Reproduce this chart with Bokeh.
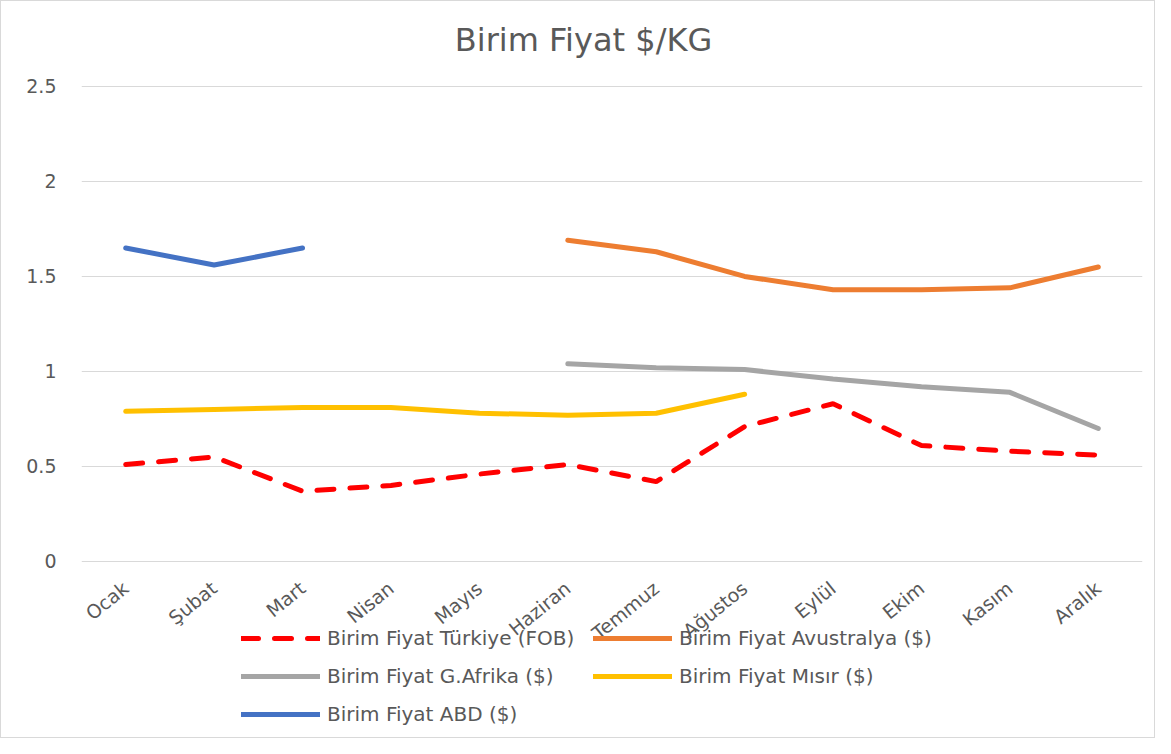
import math
from bokeh.plotting import figure
from bokeh.models import (FactorRange, Range1d, FixedTicker, Legend, LegendItem, Label)
from bokeh.embed import file_html
from bokeh.resources import INLINE

months = ["Ocak", "Şubat", "Mart", "Nisan", "Mayıs", "Haziran", "Temmuz",
          "Ağustos", "Eylül", "Ekim", "Kasım", "Aralık"]
nan = float("nan")
turkiye = [0.51, 0.55, 0.37, 0.40, 0.46, 0.51, 0.42, 0.71, 0.83, 0.61, 0.58, 0.56]
avustralya = [nan, nan, nan, nan, nan, 1.69, 1.63, 1.50, 1.43, 1.43, 1.44, 1.55]
gafrika = [nan, nan, nan, nan, nan, 1.04, 1.02, 1.01, 0.96, 0.92, 0.89, 0.70]
misir = [0.79, 0.80, 0.81, 0.81, 0.78, 0.77, 0.78, 0.88, nan, nan, nan, nan]
abd = [1.65, 1.56, 1.65, nan, nan, nan, nan, nan, nan, nan, nan, nan]
y_ticks = [0, 0.5, 1, 1.5, 2, 2.5]
y_tick_labels = ["0", "0.5", "1", "1.5", "2", "2.5"]
title_text = "Birim Fiyat $/KG"
series_names = ["Birim Fiyat Türkiye (FOB)", "Birim Fiyat Avustralya ($)",
                "Birim Fiyat G.Afrika ($)", "Birim Fiyat Mısır ($)", "Birim Fiyat ABD ($)"]

FONT = "DejaVu Sans"
GREY = "#595959"
W, H = 1155, 738

# frame spans the full height; value range extended so that 0..2.5 sits where the reference draws it
p = figure(width=W, height=H, x_range=FactorRange(*months), y_range=Range1d(-0.937, 2.947),
           output_backend="svg", toolbar_location=None,
           min_border_left=80, min_border_right=14, min_border_top=0, min_border_bottom=0)
p.styles = {"border": "1px solid #D9D9D9"}
p.outline_line_color = None
p.background_fill_color = "white"
p.border_fill_color = "white"

p.xgrid.grid_line_color = None
p.ygrid.grid_line_color = "#D9D9D9"
p.ygrid.grid_line_width = 1.2
p.yaxis.ticker = FixedTicker(ticks=y_ticks)
p.ygrid.ticker = FixedTicker(ticks=y_ticks)
p.yaxis.major_label_overrides = {t: l for t, l in zip(y_ticks, y_tick_labels)}

for ax in (p.xaxis[0], p.yaxis[0]):
    ax.axis_line_color = None
    ax.major_tick_line_color = None
    ax.minor_tick_line_color = None
    ax.major_tick_out = 0
    ax.major_tick_in = 0
    ax.major_label_text_font = FONT
    ax.major_label_text_font_size = "19px"
    ax.major_label_text_color = GREY
p.yaxis.major_label_standoff = 25
p.xaxis.fixed_location = 0
p.xaxis.major_label_standoff = 24
p.xaxis.major_label_orientation = 0.68

r_tr = p.line(months, turkiye, line_color="#FF0000", line_width=5, line_dash="17 16", line_cap="round")
r_au = p.line(months, avustralya, line_color="#ED7D31", line_width=5, line_cap="round")
r_ga = p.line(months, gafrika, line_color="#A5A5A5", line_width=5, line_cap="round")
r_mi = p.line(months, misir, line_color="#FFC000", line_width=5, line_cap="round")
r_ab = p.line(months, abd, line_color="#4472C4", line_width=5, line_cap="round")

items = [LegendItem(label=n, renderers=[r]) for n, r in zip(series_names, [r_tr, r_au, r_ga, r_mi, r_ab])]
legend = Legend(items=items, location=(160, 11), orientation="horizontal", ncols=2,
                label_text_font=FONT, label_text_font_size="20px", label_text_color=GREY,
                glyph_width=79, glyph_height=28, label_height=28, label_width=256,
                label_standoff=7, spacing=10, padding=0, margin=0,
                border_line_color=None, background_fill_alpha=0)
p.add_layout(legend, "center")

title = Label(x=502, y=700, x_units="screen", y_units="screen", text=title_text,
              text_font=FONT, text_font_size="32px", text_color=GREY,
              text_align="center", text_baseline="middle")
p.add_layout(title)

open("out.html", "w").write(file_html(p, INLINE))
